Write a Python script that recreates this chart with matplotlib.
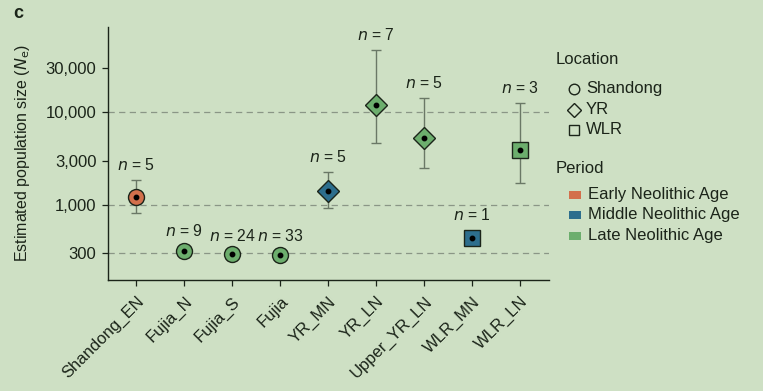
import matplotlib
matplotlib.use("Agg")
from matplotlib import pyplot as plt
from matplotlib.lines import Line2D
from matplotlib.patches import Rectangle
import numpy as np

# data
groups = ["Shandong_EN", "Fujia_N", "Fujia_S", "Fujia", "YR_MN",
          "YR_LN", "Upper_YR_LN", "WLR_MN", "WLR_LN"]
ne_est = [1220, 314, 292, 290, 1400, 12000, 5250, 436, 3900]
ne_low = [820, 300, 265, 270, 930, 4700, 2490, 436, 1720]
ne_high = [1850, 330, 320, 315, 2250, 47600, 14300, 436, 12600]
n_samples = [5, 9, 24, 33, 5, 7, 5, 1, 3]
location = ["Shandong", "Shandong", "Shandong", "Shandong", "YR",
            "YR", "YR", "WLR", "WLR"]
period = ["Early", "Late", "Late", "Late", "Middle",
          "Late", "Late", "Middle", "Late"]

period_colors = {"Early": "#d3704c", "Middle": "#2d6e8d", "Late": "#6cae6d"}
period_names = {"Early": "Early Neolithic Age", "Middle": "Middle Neolithic Age",
                "Late": "Late Neolithic Age"}
loc_markers = {"Shandong": ("o", 11.5), "YR": ("D", 10.8), "WLR": ("s", 11)}

bg = "#cee0c4"
ink = "#1b2419"
plt.rcParams['font.family'] = ['Liberation Sans', 'DejaVu Sans']

W, H = 763, 391
fig = plt.figure(figsize=(W / 100, H / 100), dpi=100, facecolor=bg)
ax = fig.add_axes([0.141, 0.284, 0.5785, 0.647], facecolor=bg)

x = np.arange(len(groups))
for yv in [300, 1000, 10000]:
    ax.axhline(yv, color="#8a9686", lw=0.9, ls=(0, (5, 3.5)), zorder=1)

for i in x:
    lo = ne_est[i] - ne_low[i]
    hi = ne_high[i] - ne_est[i]
    if lo > 0 or hi > 0:
        ax.errorbar(i, ne_est[i], yerr=[[lo], [hi]], fmt="none",
                    ecolor="#6a7866", elinewidth=1.0, capsize=3.5,
                    capthick=1.0, zorder=2)
    m, ms = loc_markers[location[i]]
    ax.plot(i, ne_est[i], marker=m, ms=ms, mfc=period_colors[period[i]],
            mec=ink, mew=1.0, ls="none", zorder=3)
    ax.plot(i, ne_est[i], marker="o", ms=3.2, color="black", ls="none", zorder=4)
    # label above the top of the bar or marker
    top_px = ax.transData.transform((i, ne_high[i]))[1]
    mk_px = ax.transData.transform((i, ne_est[i]))[1] + 8.5
    off = max(top_px, mk_px) - top_px + 15
    ax.annotate("$n$ = %d" % n_samples[i], (i, ne_high[i]),
                xytext=(0, off), textcoords="offset pixels",
                ha="center", va="center", fontsize=11.3, color=ink)

ax.set_yscale("log")
ax.set_ylim(154, 84000)
ax.set_xlim(-0.6, 8.6)
ax.set_yticks([300, 1000, 3000, 10000, 30000])
ax.set_yticklabels(["300", "1,000", "3,000", "10,000", "30,000"])
ax.yaxis.set_minor_locator(matplotlib.ticker.NullLocator())
ax.set_xticks(x)
ax.set_xticklabels(groups, rotation=45, ha="right", va="top",
                   rotation_mode="anchor")
ax.tick_params(axis="both", labelsize=12, colors=ink, length=4, width=0.9)
ax.tick_params(axis="x", pad=6)
ax.tick_params(axis="y", pad=4)
ax.set_ylabel("Estimated population size ($N_\\mathrm{e}$)", fontsize=11.5,
              color=ink, labelpad=10)
for s in ["top", "right"]:
    ax.spines[s].set_visible(False)
for s in ["left", "bottom"]:
    ax.spines[s].set_color(ink)
    ax.spines[s].set_linewidth(1.0)


# legends, placed in figure pixels
def fx(px):
    return px / W


def fy(py):
    return 1 - py / H


fig.text(fx(556), fy(59), "Location", fontsize=12, color=ink, va="center")
for k, yy in zip(["Shandong", "YR", "WLR"], [89, 110, 130]):
    m, ms = loc_markers[k]
    fig.add_artist(Line2D([fx(574)], [fy(yy)], transform=fig.transFigure,
                          marker=m, ms=ms * 0.66, mfc="none", mec=ink,
                          mew=1.0, ls="none"))
    fig.text(fx(586), fy(yy), k, fontsize=12, color=ink, va="center")

fig.text(fx(556), fy(168), "Period", fontsize=12, color=ink, va="center")
for k, yy in zip(["Early", "Middle", "Late"], [195, 215, 236]):
    fig.add_artist(Rectangle((fx(569), fy(yy + 4)), fx(12), 8 / H,
                             transform=fig.transFigure,
                             facecolor=period_colors[k], edgecolor="none"))
    fig.text(fx(588), fy(yy), period_names[k], fontsize=12, color=ink,
             va="center")

fig.text(0.018, 0.965, "c", fontsize=13, fontweight="bold", color=ink,
         va="center")

fig.savefig("out.png", dpi=100, facecolor=bg)
